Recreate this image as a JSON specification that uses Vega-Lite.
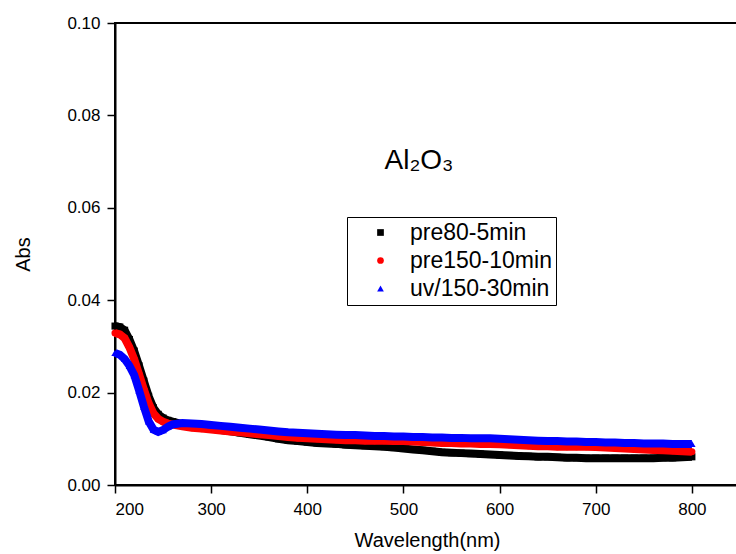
{
  "$schema": "https://vega.github.io/schema/vega-lite/v6.json",
  "autosize": {"type": "none"},
  "padding": {"left": 115, "top": 23, "right": 0, "bottom": 69},
  "width": 624,
  "height": 462,
  "background": "white",
  "title": {"text": "Al₂O₃", "orient": "top", "anchor": "middle", "frame": "group", "offset": -183, "baseline": "alphabetic", "fontSize": 28, "fontWeight": "normal", "font": "Liberation Sans, DejaVu Sans", "color": "black", "dx": -8},
  "config": {
    "font": "Liberation Sans",
    "view": {"stroke": "black", "strokeWidth": 2},
    "axis": {"grid": false, "domainColor": "black", "tickColor": "black", "labelColor": "black", "titleColor": "black", "labelFont": "Liberation Sans", "titleFont": "Liberation Sans", "labelFontSize": 17, "titleFontSize": 20, "titleFontWeight": "normal", "domainWidth": 2, "tickWidth": 1.5, "tickSize": 8}
  },
  "data": {"values": [
    {"series": "pre80-5min", "wavelength": 200, "abs": 0.0344},
    {"series": "pre80-5min", "wavelength": 205, "abs": 0.0342},
    {"series": "pre80-5min", "wavelength": 210, "abs": 0.0335},
    {"series": "pre80-5min", "wavelength": 215, "abs": 0.0315},
    {"series": "pre80-5min", "wavelength": 220, "abs": 0.0290},
    {"series": "pre80-5min", "wavelength": 225, "abs": 0.0258},
    {"series": "pre80-5min", "wavelength": 230, "abs": 0.0225},
    {"series": "pre80-5min", "wavelength": 235, "abs": 0.0192},
    {"series": "pre80-5min", "wavelength": 240, "abs": 0.0167},
    {"series": "pre80-5min", "wavelength": 245, "abs": 0.0153},
    {"series": "pre80-5min", "wavelength": 250, "abs": 0.0145},
    {"series": "pre80-5min", "wavelength": 255, "abs": 0.0140},
    {"series": "pre80-5min", "wavelength": 260, "abs": 0.0137},
    {"series": "pre80-5min", "wavelength": 270, "abs": 0.0132},
    {"series": "pre80-5min", "wavelength": 280, "abs": 0.0128},
    {"series": "pre80-5min", "wavelength": 290, "abs": 0.0125},
    {"series": "pre80-5min", "wavelength": 300, "abs": 0.0122},
    {"series": "pre80-5min", "wavelength": 310, "abs": 0.0119},
    {"series": "pre80-5min", "wavelength": 320, "abs": 0.0116},
    {"series": "pre80-5min", "wavelength": 330, "abs": 0.0113},
    {"series": "pre80-5min", "wavelength": 340, "abs": 0.0110},
    {"series": "pre80-5min", "wavelength": 350, "abs": 0.0107},
    {"series": "pre80-5min", "wavelength": 360, "abs": 0.0104},
    {"series": "pre80-5min", "wavelength": 370, "abs": 0.0100},
    {"series": "pre80-5min", "wavelength": 380, "abs": 0.0097},
    {"series": "pre80-5min", "wavelength": 390, "abs": 0.0095},
    {"series": "pre80-5min", "wavelength": 400, "abs": 0.0093},
    {"series": "pre80-5min", "wavelength": 410, "abs": 0.0091},
    {"series": "pre80-5min", "wavelength": 420, "abs": 0.0090},
    {"series": "pre80-5min", "wavelength": 430, "abs": 0.0089},
    {"series": "pre80-5min", "wavelength": 440, "abs": 0.0087},
    {"series": "pre80-5min", "wavelength": 450, "abs": 0.0086},
    {"series": "pre80-5min", "wavelength": 460, "abs": 0.0085},
    {"series": "pre80-5min", "wavelength": 470, "abs": 0.0084},
    {"series": "pre80-5min", "wavelength": 480, "abs": 0.0083},
    {"series": "pre80-5min", "wavelength": 490, "abs": 0.0081},
    {"series": "pre80-5min", "wavelength": 500, "abs": 0.0079},
    {"series": "pre80-5min", "wavelength": 510, "abs": 0.0077},
    {"series": "pre80-5min", "wavelength": 520, "abs": 0.0075},
    {"series": "pre80-5min", "wavelength": 530, "abs": 0.0073},
    {"series": "pre80-5min", "wavelength": 540, "abs": 0.0071},
    {"series": "pre80-5min", "wavelength": 550, "abs": 0.0070},
    {"series": "pre80-5min", "wavelength": 560, "abs": 0.0069},
    {"series": "pre80-5min", "wavelength": 570, "abs": 0.0068},
    {"series": "pre80-5min", "wavelength": 580, "abs": 0.0067},
    {"series": "pre80-5min", "wavelength": 590, "abs": 0.0066},
    {"series": "pre80-5min", "wavelength": 600, "abs": 0.0065},
    {"series": "pre80-5min", "wavelength": 610, "abs": 0.0064},
    {"series": "pre80-5min", "wavelength": 620, "abs": 0.0063},
    {"series": "pre80-5min", "wavelength": 630, "abs": 0.0062},
    {"series": "pre80-5min", "wavelength": 640, "abs": 0.0061},
    {"series": "pre80-5min", "wavelength": 650, "abs": 0.0061},
    {"series": "pre80-5min", "wavelength": 660, "abs": 0.0060},
    {"series": "pre80-5min", "wavelength": 670, "abs": 0.0059},
    {"series": "pre80-5min", "wavelength": 680, "abs": 0.0059},
    {"series": "pre80-5min", "wavelength": 690, "abs": 0.0058},
    {"series": "pre80-5min", "wavelength": 700, "abs": 0.0058},
    {"series": "pre80-5min", "wavelength": 710, "abs": 0.0058},
    {"series": "pre80-5min", "wavelength": 720, "abs": 0.0058},
    {"series": "pre80-5min", "wavelength": 730, "abs": 0.0058},
    {"series": "pre80-5min", "wavelength": 740, "abs": 0.0058},
    {"series": "pre80-5min", "wavelength": 750, "abs": 0.0058},
    {"series": "pre80-5min", "wavelength": 760, "abs": 0.0058},
    {"series": "pre80-5min", "wavelength": 770, "abs": 0.0059},
    {"series": "pre80-5min", "wavelength": 780, "abs": 0.0059},
    {"series": "pre80-5min", "wavelength": 790, "abs": 0.0060},
    {"series": "pre80-5min", "wavelength": 800, "abs": 0.0061},
    {"series": "pre150-10min", "wavelength": 200, "abs": 0.0329},
    {"series": "pre150-10min", "wavelength": 205, "abs": 0.0326},
    {"series": "pre150-10min", "wavelength": 210, "abs": 0.0318},
    {"series": "pre150-10min", "wavelength": 215, "abs": 0.0298},
    {"series": "pre150-10min", "wavelength": 220, "abs": 0.0272},
    {"series": "pre150-10min", "wavelength": 225, "abs": 0.0240},
    {"series": "pre150-10min", "wavelength": 230, "abs": 0.0207},
    {"series": "pre150-10min", "wavelength": 235, "abs": 0.0177},
    {"series": "pre150-10min", "wavelength": 240, "abs": 0.0155},
    {"series": "pre150-10min", "wavelength": 245, "abs": 0.0143},
    {"series": "pre150-10min", "wavelength": 250, "abs": 0.0137},
    {"series": "pre150-10min", "wavelength": 255, "abs": 0.0133},
    {"series": "pre150-10min", "wavelength": 260, "abs": 0.0131},
    {"series": "pre150-10min", "wavelength": 270, "abs": 0.0127},
    {"series": "pre150-10min", "wavelength": 280, "abs": 0.0124},
    {"series": "pre150-10min", "wavelength": 290, "abs": 0.0122},
    {"series": "pre150-10min", "wavelength": 300, "abs": 0.0120},
    {"series": "pre150-10min", "wavelength": 310, "abs": 0.0118},
    {"series": "pre150-10min", "wavelength": 320, "abs": 0.0116},
    {"series": "pre150-10min", "wavelength": 330, "abs": 0.0114},
    {"series": "pre150-10min", "wavelength": 340, "abs": 0.0112},
    {"series": "pre150-10min", "wavelength": 350, "abs": 0.0110},
    {"series": "pre150-10min", "wavelength": 360, "abs": 0.0108},
    {"series": "pre150-10min", "wavelength": 370, "abs": 0.0106},
    {"series": "pre150-10min", "wavelength": 380, "abs": 0.0104},
    {"series": "pre150-10min", "wavelength": 390, "abs": 0.0102},
    {"series": "pre150-10min", "wavelength": 400, "abs": 0.0101},
    {"series": "pre150-10min", "wavelength": 410, "abs": 0.0100},
    {"series": "pre150-10min", "wavelength": 420, "abs": 0.0099},
    {"series": "pre150-10min", "wavelength": 430, "abs": 0.0098},
    {"series": "pre150-10min", "wavelength": 440, "abs": 0.0097},
    {"series": "pre150-10min", "wavelength": 450, "abs": 0.0097},
    {"series": "pre150-10min", "wavelength": 460, "abs": 0.0096},
    {"series": "pre150-10min", "wavelength": 470, "abs": 0.0096},
    {"series": "pre150-10min", "wavelength": 480, "abs": 0.0096},
    {"series": "pre150-10min", "wavelength": 490, "abs": 0.0095},
    {"series": "pre150-10min", "wavelength": 500, "abs": 0.0095},
    {"series": "pre150-10min", "wavelength": 510, "abs": 0.0094},
    {"series": "pre150-10min", "wavelength": 520, "abs": 0.0093},
    {"series": "pre150-10min", "wavelength": 530, "abs": 0.0092},
    {"series": "pre150-10min", "wavelength": 540, "abs": 0.0091},
    {"series": "pre150-10min", "wavelength": 550, "abs": 0.0091},
    {"series": "pre150-10min", "wavelength": 560, "abs": 0.0090},
    {"series": "pre150-10min", "wavelength": 570, "abs": 0.0090},
    {"series": "pre150-10min", "wavelength": 580, "abs": 0.0089},
    {"series": "pre150-10min", "wavelength": 590, "abs": 0.0089},
    {"series": "pre150-10min", "wavelength": 600, "abs": 0.0088},
    {"series": "pre150-10min", "wavelength": 610, "abs": 0.0087},
    {"series": "pre150-10min", "wavelength": 620, "abs": 0.0086},
    {"series": "pre150-10min", "wavelength": 630, "abs": 0.0085},
    {"series": "pre150-10min", "wavelength": 640, "abs": 0.0084},
    {"series": "pre150-10min", "wavelength": 650, "abs": 0.0084},
    {"series": "pre150-10min", "wavelength": 660, "abs": 0.0083},
    {"series": "pre150-10min", "wavelength": 670, "abs": 0.0083},
    {"series": "pre150-10min", "wavelength": 680, "abs": 0.0083},
    {"series": "pre150-10min", "wavelength": 690, "abs": 0.0083},
    {"series": "pre150-10min", "wavelength": 700, "abs": 0.0082},
    {"series": "pre150-10min", "wavelength": 710, "abs": 0.0081},
    {"series": "pre150-10min", "wavelength": 720, "abs": 0.0080},
    {"series": "pre150-10min", "wavelength": 730, "abs": 0.0079},
    {"series": "pre150-10min", "wavelength": 740, "abs": 0.0078},
    {"series": "pre150-10min", "wavelength": 750, "abs": 0.0077},
    {"series": "pre150-10min", "wavelength": 760, "abs": 0.0076},
    {"series": "pre150-10min", "wavelength": 770, "abs": 0.0075},
    {"series": "pre150-10min", "wavelength": 780, "abs": 0.0074},
    {"series": "pre150-10min", "wavelength": 790, "abs": 0.0073},
    {"series": "pre150-10min", "wavelength": 800, "abs": 0.0072},
    {"series": "uv/150-30min", "wavelength": 200, "abs": 0.0286},
    {"series": "uv/150-30min", "wavelength": 205, "abs": 0.0282},
    {"series": "uv/150-30min", "wavelength": 210, "abs": 0.0273},
    {"series": "uv/150-30min", "wavelength": 215, "abs": 0.0258},
    {"series": "uv/150-30min", "wavelength": 220, "abs": 0.0238},
    {"series": "uv/150-30min", "wavelength": 225, "abs": 0.0205},
    {"series": "uv/150-30min", "wavelength": 230, "abs": 0.0170},
    {"series": "uv/150-30min", "wavelength": 235, "abs": 0.0138},
    {"series": "uv/150-30min", "wavelength": 240, "abs": 0.0120},
    {"series": "uv/150-30min", "wavelength": 245, "abs": 0.0115},
    {"series": "uv/150-30min", "wavelength": 250, "abs": 0.0119},
    {"series": "uv/150-30min", "wavelength": 255, "abs": 0.0126},
    {"series": "uv/150-30min", "wavelength": 260, "abs": 0.0131},
    {"series": "uv/150-30min", "wavelength": 270, "abs": 0.0134},
    {"series": "uv/150-30min", "wavelength": 280, "abs": 0.0133},
    {"series": "uv/150-30min", "wavelength": 290, "abs": 0.0132},
    {"series": "uv/150-30min", "wavelength": 300, "abs": 0.0130},
    {"series": "uv/150-30min", "wavelength": 310, "abs": 0.0128},
    {"series": "uv/150-30min", "wavelength": 320, "abs": 0.0126},
    {"series": "uv/150-30min", "wavelength": 330, "abs": 0.0124},
    {"series": "uv/150-30min", "wavelength": 340, "abs": 0.0122},
    {"series": "uv/150-30min", "wavelength": 350, "abs": 0.0120},
    {"series": "uv/150-30min", "wavelength": 360, "abs": 0.0118},
    {"series": "uv/150-30min", "wavelength": 370, "abs": 0.0116},
    {"series": "uv/150-30min", "wavelength": 380, "abs": 0.0114},
    {"series": "uv/150-30min", "wavelength": 390, "abs": 0.0113},
    {"series": "uv/150-30min", "wavelength": 400, "abs": 0.0112},
    {"series": "uv/150-30min", "wavelength": 410, "abs": 0.0111},
    {"series": "uv/150-30min", "wavelength": 420, "abs": 0.0110},
    {"series": "uv/150-30min", "wavelength": 430, "abs": 0.0109},
    {"series": "uv/150-30min", "wavelength": 440, "abs": 0.0108},
    {"series": "uv/150-30min", "wavelength": 450, "abs": 0.0108},
    {"series": "uv/150-30min", "wavelength": 460, "abs": 0.0107},
    {"series": "uv/150-30min", "wavelength": 470, "abs": 0.0106},
    {"series": "uv/150-30min", "wavelength": 480, "abs": 0.0106},
    {"series": "uv/150-30min", "wavelength": 490, "abs": 0.0105},
    {"series": "uv/150-30min", "wavelength": 500, "abs": 0.0105},
    {"series": "uv/150-30min", "wavelength": 510, "abs": 0.0104},
    {"series": "uv/150-30min", "wavelength": 520, "abs": 0.0104},
    {"series": "uv/150-30min", "wavelength": 530, "abs": 0.0103},
    {"series": "uv/150-30min", "wavelength": 540, "abs": 0.0103},
    {"series": "uv/150-30min", "wavelength": 550, "abs": 0.0102},
    {"series": "uv/150-30min", "wavelength": 560, "abs": 0.0102},
    {"series": "uv/150-30min", "wavelength": 570, "abs": 0.0101},
    {"series": "uv/150-30min", "wavelength": 580, "abs": 0.0101},
    {"series": "uv/150-30min", "wavelength": 590, "abs": 0.0101},
    {"series": "uv/150-30min", "wavelength": 600, "abs": 0.0100},
    {"series": "uv/150-30min", "wavelength": 610, "abs": 0.0099},
    {"series": "uv/150-30min", "wavelength": 620, "abs": 0.0098},
    {"series": "uv/150-30min", "wavelength": 630, "abs": 0.0097},
    {"series": "uv/150-30min", "wavelength": 640, "abs": 0.0096},
    {"series": "uv/150-30min", "wavelength": 650, "abs": 0.0095},
    {"series": "uv/150-30min", "wavelength": 660, "abs": 0.0095},
    {"series": "uv/150-30min", "wavelength": 670, "abs": 0.0094},
    {"series": "uv/150-30min", "wavelength": 680, "abs": 0.0094},
    {"series": "uv/150-30min", "wavelength": 690, "abs": 0.0093},
    {"series": "uv/150-30min", "wavelength": 700, "abs": 0.0093},
    {"series": "uv/150-30min", "wavelength": 710, "abs": 0.0092},
    {"series": "uv/150-30min", "wavelength": 720, "abs": 0.0092},
    {"series": "uv/150-30min", "wavelength": 730, "abs": 0.0091},
    {"series": "uv/150-30min", "wavelength": 740, "abs": 0.0091},
    {"series": "uv/150-30min", "wavelength": 750, "abs": 0.0090},
    {"series": "uv/150-30min", "wavelength": 760, "abs": 0.0090},
    {"series": "uv/150-30min", "wavelength": 770, "abs": 0.0090},
    {"series": "uv/150-30min", "wavelength": 780, "abs": 0.0089},
    {"series": "uv/150-30min", "wavelength": 790, "abs": 0.0089},
    {"series": "uv/150-30min", "wavelength": 800, "abs": 0.0089}
  ]},
  "encoding": {
    "x": {"field": "wavelength", "type": "quantitative", "scale": {"domain": [200, 849], "nice": false, "zero": false},
      "axis": {"values": [200, 300, 400, 500, 600, 700, 800], "format": "d", "labelPadding": 8, "title": "Wavelength(nm)", "titlePadding": 13}},
    "y": {"field": "abs", "type": "quantitative", "scale": {"domain": [0, 0.1], "nice": false},
      "axis": {"values": [0, 0.02, 0.04, 0.06, 0.08, 0.1], "format": ".2f", "labelPadding": 7, "title": "Abs", "titlePadding": 33}}
  },
  "layer": [
    {
      "transform": [{"filter": {"field": "series", "equal": "pre80-5min"}}],
      "mark": {"type": "line", "strokeWidth": 8, "color": "#000000"}
    },
    {
      "transform": [{"filter": {"field": "series", "equal": "pre80-5min"}}],
      "mark": {"type": "point", "filled": true, "size": 50, "opacity": 1},
      "encoding": {
        "color": {"field": "series", "type": "nominal", "scale": {"domain": ["pre80-5min", "pre150-10min", "uv/150-30min"], "range": ["#000000", "#ff0000", "#0000ff"]},
          "legend": {"orient": "none", "legendX": 232, "legendY": 194, "title": null, "padding": 4, "strokeColor": "black", "fillColor": "white", "labelFont": "Liberation Sans", "labelFontSize": 23, "labelColor": "black", "symbolOffset": 18, "labelOffset": 18, "rowPadding": 4, "symbolSize": 45, "labelLimit": 300}},
        "shape": {"field": "series", "type": "nominal", "scale": {"domain": ["pre80-5min", "pre150-10min", "uv/150-30min"], "range": ["square", "circle", "triangle-up"]},
          "legend": {"orient": "none", "legendX": 232, "legendY": 194, "title": null, "padding": 4, "strokeColor": "black", "fillColor": "white", "labelFont": "Liberation Sans", "labelFontSize": 23, "labelColor": "black", "symbolOffset": 18, "labelOffset": 18, "rowPadding": 4, "symbolSize": 45, "labelLimit": 300}}
      }
    },
    {
      "transform": [{"filter": {"field": "series", "equal": "pre150-10min"}}],
      "mark": {"type": "line", "strokeWidth": 8, "color": "#ff0000"}
    },
    {
      "transform": [{"filter": {"field": "series", "equal": "pre150-10min"}}],
      "mark": {"type": "point", "filled": true, "size": 50, "opacity": 1},
      "encoding": {
        "color": {"field": "series", "type": "nominal"},
        "shape": {"field": "series", "type": "nominal"}
      }
    },
    {
      "transform": [{"filter": {"field": "series", "equal": "uv/150-30min"}}],
      "mark": {"type": "line", "strokeWidth": 8, "color": "#0000ff"}
    },
    {
      "transform": [{"filter": {"field": "series", "equal": "uv/150-30min"}}],
      "mark": {"type": "point", "filled": true, "size": 55, "opacity": 1},
      "encoding": {
        "color": {"field": "series", "type": "nominal"},
        "shape": {"field": "series", "type": "nominal"}
      }
    }
  ]
}
